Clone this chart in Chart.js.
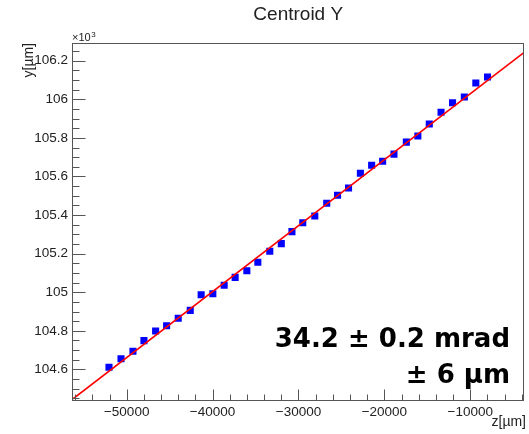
<!DOCTYPE html>
<html>
<head>
<meta charset="utf-8">
<script src="https://cdn.jsdelivr.net/npm/chart.js@4.4.1/dist/chart.umd.min.js"></script>
<style>
  html, body { margin: 0; padding: 0; background: #fff; }
  #wrap { width: 529px; height: 434px; position: relative; }
</style>
</head>
<body>
<div id="wrap"><canvas id="centroidChart"></canvas></div>
<script>
  // z positions [um] and fitted centroid y [um]
  const zValues = [
    -52060, -50660, -49270, -47990, -46630, -45350, -44000, -42600, -41330, -39970,
    -38650, -37370, -36010, -34730, -33340, -32000, -30760, -29500, -28100, -26710,
    -25450, -24170, -22790, -21480, -20200, -18880, -17440, -16100, -14770, -13400,
    -12060, -10690, -9350, -7990
  ];
  const yValues = [
    104611, 104655, 104694, 104749, 104799, 104826, 104865, 104906, 104987, 104992,
    105036, 105077, 105111, 105155, 105212, 105252, 105314, 105360, 105395, 105461,
    105503, 105540, 105617, 105658, 105679, 105716, 105778, 105810, 105872, 105933,
    105982, 106012, 106085, 106116
  ];

  // linear fit: y = FIT_Y0 + FIT_SLOPE * (z - FIT_Z0)
  const FIT_SLOPE = 0.0342;
  const FIT_Z0 = -30000;
  const FIT_Y0 = 105345;

  const X_MIN = -56250, X_MAX = -3800;
  const Y_MIN = 104436, Y_MAX = 106292;

  const xTicks = [-50000, -40000, -30000, -20000, -10000];
  const yTicks = [104600, 104800, 105000, 105200, 105400, 105600, 105800, 106000, 106200];
  const X_MINOR = 2000;
  const Y_MINOR = 50;

  const TITLE = "Centroid Y";
  const X_TITLE = "z[\u00b5m]";
  const Y_TITLE = "y[\u00b5m]";
  const FIT_TEXT = ["34.2 \u00b1 0.2 mrad", "\u00b1 6 \u00b5m"];

  const TEXT_COLOR = "#222";
  const AXIS_COLOR = "#555";

  // ---------------------------------------------------------
  // Frame, inside ticks and labels (ROOT style)
  // ---------------------------------------------------------

  const rootFrame = {
    id: "rootFrame",
    beforeDraw(chart) {
      const ctx = chart.ctx;
      ctx.save();
      ctx.fillStyle = "#fff";
      ctx.fillRect(0, 0, chart.width, chart.height);
      ctx.restore();
    },
    afterDraw(chart) {
      const ctx = chart.ctx;
      const ca = chart.chartArea;
      const xs = chart.scales.x;
      const ys = chart.scales.y;
      const L = Math.round(ca.left) - 0.5;
      const R = Math.round(ca.right) - 0.5;
      const T = Math.round(ca.top) + 0.5;
      const B = Math.round(ca.bottom) - 0.5;

      ctx.save();
      ctx.strokeStyle = AXIS_COLOR;
      ctx.lineWidth = 1;
      ctx.strokeRect(L, T, R - L, B - T);

      ctx.beginPath();
      // x ticks, pointing up from the bottom axis
      for (let v = Math.ceil(X_MIN / X_MINOR) * X_MINOR; v <= X_MAX; v += X_MINOR) {
        const px = Math.round(xs.getPixelForValue(v)) + 0.5;
        const len = xTicks.includes(v) ? 11 : 6;
        ctx.moveTo(px, B);
        ctx.lineTo(px, B - len);
      }
      // y ticks, pointing right from the left axis
      for (let v = Math.ceil(Y_MIN / Y_MINOR) * Y_MINOR; v <= Y_MAX; v += Y_MINOR) {
        const py = Math.round(ys.getPixelForValue(v)) + 0.5;
        const len = yTicks.includes(v) ? 13 : 7;
        ctx.moveTo(L, py);
        ctx.lineTo(L + len, py);
      }
      ctx.stroke();

      ctx.fillStyle = TEXT_COLOR;

      // title
      ctx.font = "19px 'Liberation Sans', Arial, sans-serif";
      ctx.textAlign = "center";
      ctx.textBaseline = "middle";
      ctx.fillText(TITLE, (ca.left + ca.right) / 2, 15);

      // x10^3 multiplier
      ctx.font = "11px 'Liberation Sans', Arial, sans-serif";
      ctx.textAlign = "left";
      ctx.textBaseline = "alphabetic";
      ctx.fillText("\u00d710", ca.left - 1, ca.top - 2);
      const w = ctx.measureText("\u00d710").width;
      ctx.font = "8px 'Liberation Sans', Arial, sans-serif";
      ctx.fillText("3", ca.left - 1 + w + 0.5, ca.top - 6);

      // axis titles
      ctx.font = "14px 'Liberation Sans', Arial, sans-serif";
      ctx.textAlign = "right";
      ctx.textBaseline = "alphabetic";
      ctx.fillText(X_TITLE, ca.right + 2.5, 426);

      ctx.save();
      ctx.translate(29, ca.top);
      ctx.rotate(-Math.PI / 2);
      ctx.textAlign = "right";
      ctx.textBaseline = "middle";
      ctx.fillText(Y_TITLE, 0, 0);
      ctx.restore();

      // fit result
      ctx.fillStyle = "#000";
      ctx.font = "bold 26px 'DejaVu Sans', sans-serif";
      ctx.textAlign = "right";
      ctx.textBaseline = "alphabetic";
      ctx.fillText(FIT_TEXT[0], 510, 347);
      ctx.fillText(FIT_TEXT[1], 510, 383);
      ctx.restore();
    }
  };

  // ---------------------------------------------------------
  // Chart
  // ---------------------------------------------------------

  const points = zValues.map((z, i) => ({ x: z, y: yValues[i] }));
  const fitAt = z => FIT_Y0 + FIT_SLOPE * (z - FIT_Z0);
  const fitLine = [
    { x: X_MIN, y: fitAt(X_MIN) },
    { x: X_MAX, y: fitAt(X_MAX) }
  ];

  const tickFont = { family: "'Liberation Sans', Arial, sans-serif", size: 13.5 };

  new Chart(document.getElementById("centroidChart"), {
    type: "scatter",
    data: {
      datasets: [
        {
          label: "fit",
          data: fitLine,
          showLine: true,
          borderColor: "#ff0000",
          borderWidth: 1.6,
          pointRadius: 0,
          fill: false
        },
        {
          label: "centroid",
          data: points,
          pointStyle: "rect",
          pointRadius: 5,
          pointBackgroundColor: "#0000ff",
          pointBorderWidth: 0,
          borderColor: "#0000ff"
        }
      ]
    },
    options: {
      responsive: true,
      maintainAspectRatio: false,
      animation: false,
      layout: { padding: { left: 0, top: 43, right: 5.5, bottom: 0 } },
      plugins: {
        legend: { display: false },
        tooltip: { enabled: false }
      },
      scales: {
        x: {
          type: "linear",
          min: X_MIN,
          max: X_MAX,
          grid: { display: false, drawTicks: false },
          border: { display: false },
          afterBuildTicks: s => { s.ticks = xTicks.map(v => ({ value: v })); },
          afterFit: s => { s.height = 33; },
          ticks: {
            padding: 3,
            maxRotation: 0,
            autoSkip: false,
            color: TEXT_COLOR,
            font: tickFont,
            callback: v => (v < 0 ? "\u2212" : "") + Math.abs(v)
          }
        },
        y: {
          type: "linear",
          min: Y_MIN,
          max: Y_MAX,
          grid: { display: false, drawTicks: false },
          border: { display: false },
          afterBuildTicks: s => { s.ticks = yTicks.map(v => ({ value: v })); },
          afterFit: s => { s.width = 73; },
          ticks: {
            padding: 5,
            autoSkip: false,
            color: TEXT_COLOR,
            font: tickFont,
            callback: v => String(+(v / 1000).toFixed(1))
          }
        }
      }
    },
    plugins: [rootFrame]
  });
</script>
</body>
</html>
